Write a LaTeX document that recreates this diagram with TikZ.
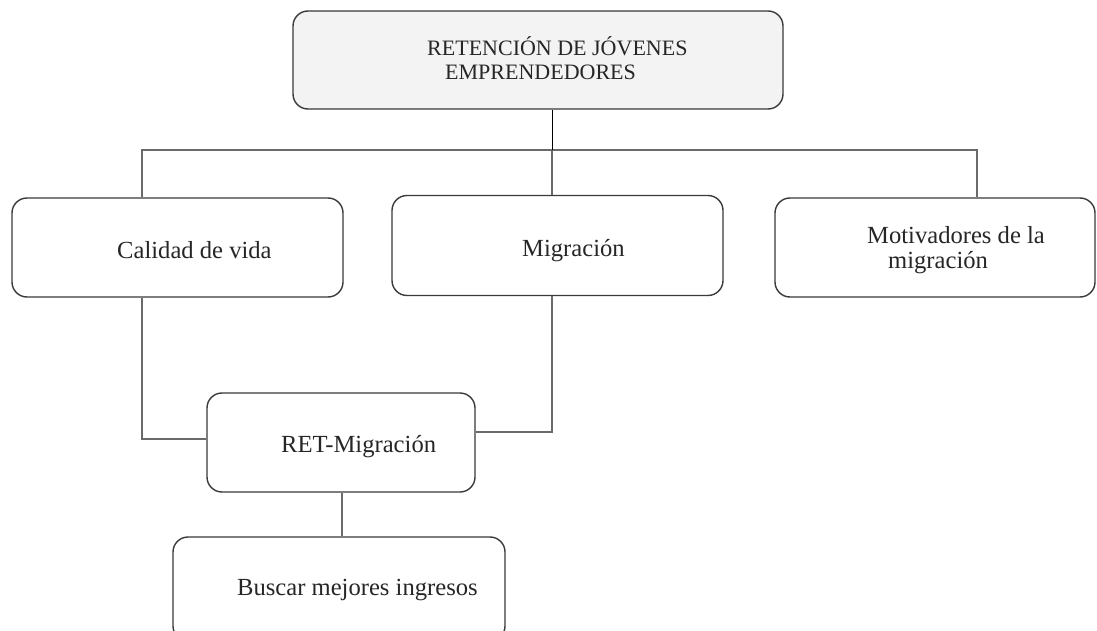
\documentclass[tikz,border=0pt]{standalone}
\usepackage{fontspec}
\setmainfont{Liberation Serif}
\definecolor{boxc}{HTML}{3A3A3A}
\definecolor{linec}{HTML}{6A6A6A}
\definecolor{topfill}{HTML}{F3F3F3}
\begin{document}
\begin{tikzpicture}[x=1pt,y=-1pt,
  box/.style={draw=boxc, line width=1.4pt, rounded corners=15pt, inner sep=0pt, fill=white},
  lbl/.style={font=\fontsize{24.6}{26}\selectfont, inner sep=0pt, anchor=base west, text=black!85},
  toplbl/.style={font=\fontsize{22}{24}\selectfont, inner sep=0pt, anchor=base west, text=black!85},
  conn/.style={draw=linec, line width=1.6pt},
  topline/.style={draw=black, line width=1pt}]
\useasboundingbox (0,0) rectangle (1097,631);
\clip (0,0) rectangle (1097,631);
\fill[white] (0,0) rectangle (1097,631);

% boxes
\node[box, fill=topfill, minimum width=490pt, minimum height=98pt] (top) at (538,60) {};
\node[box, minimum width=331pt, minimum height=99pt] (calidad) at (177.5,247.5) {};
\node[box, minimum width=331pt, minimum height=100pt] (migr) at (557.5,245.5) {};
\node[box, minimum width=320pt, minimum height=99pt] (motiv) at (935,247.5) {};
\node[box, minimum width=268pt, minimum height=99pt] (ret) at (341,442.5) {};
\node[box, minimum width=332pt, minimum height=104pt] (busc) at (339,589) {};

% texts
\node[toplbl] (t1a) at (427,56) {RETENCIÓN DE JÓVENES};
\node[toplbl] (t1b) at (445,80) {EMPRENDEDORES};
\node[lbl] (t2) at (117,258) {Calidad de vida};
\node[lbl] (t3) at (522,256) {Migración};
\node[lbl] (t4a) at (867,243) {Motivadores de la};
\node[lbl] (t4b) at (888,268) {migración};
\node[lbl] (t5) at (281,452) {RET-Migración};
\node[lbl] (t6) at (237,595) {Buscar mejores ingresos};

% junction coordinates
\coordinate (hub) at (552,150);
\coordinate (hL) at (142,150);
\coordinate (hR) at (977,150);
\coordinate (lowL) at (142,439);
\coordinate (lowR) at (552,432);
\coordinate (bx) at (342,0);

% connectors
\draw[conn] (calidad.north -| hL) -- (hL) -- (hR) -- (motiv.north -| hR);
\draw[conn] (hub) -- (migr.north -| hub);
\draw[topline] (top.south -| hub) -- (hub);
\draw[conn] (calidad.south -| lowL) -- (lowL) -- (ret.west |- lowL);
\draw[conn] (migr.south -| lowR) -- (lowR) -- (ret.east |- lowR);
\draw[conn] (ret.south -| bx) -- (busc.north -| bx);
\end{tikzpicture}
\end{document}
